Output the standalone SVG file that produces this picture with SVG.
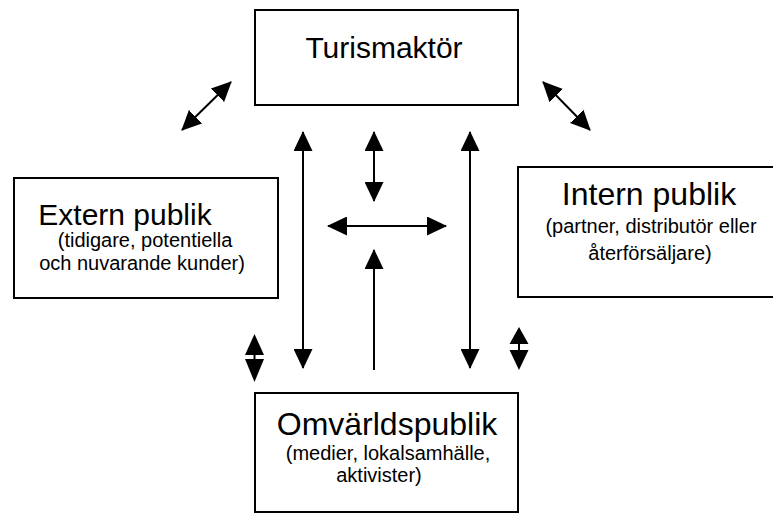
<svg xmlns="http://www.w3.org/2000/svg" width="773" height="514" viewBox="0 0 773 514">
<style>
.box{fill:#fff;stroke:#000;stroke-width:2}
.t{font-family:"Liberation Sans",Arial,sans-serif;fill:#000;text-anchor:middle}
.big{font-size:30px}
.big2{font-size:32px}
.sm{font-size:20px}
.ln{stroke:#000;stroke-width:2;fill:none}
.hd{fill:#000}
</style>
<defs>
<marker id="ah" viewBox="0 0 20 19" refX="19" refY="9.5" markerWidth="20" markerHeight="19" markerUnits="userSpaceOnUse" orient="auto-start-reverse">
<path d="M0,0 L20,9.5 L0,19 z" fill="#000"/>
</marker>
</defs>
<rect width="773" height="514" fill="#fff"/>
<g id="turismaktor">
<rect class="box" x="255" y="10" width="263" height="95"/>
<text class="t big" x="384" y="58">Turismaktör</text>
</g>
<g id="extern">
<rect class="box" x="14" y="178" width="264" height="120"/>
<text class="t big" x="125" y="225">Extern publik</text>
<text class="t sm" x="145" y="247">(tidigare, potentiella</text>
<text class="t sm" x="142" y="270">och nuvarande kunder)</text>
</g>
<g id="intern">
<rect class="box" x="518" y="167" width="260" height="130"/>
<text class="t big2" x="649" y="205">Intern publik</text>
<text class="t sm" x="651" y="233">(partner, distributör eller</text>
<text class="t sm" x="650" y="260">återförsäljare)</text>
</g>
<g id="omvarld">
<rect class="box" x="255" y="393" width="263" height="119"/>
<text class="t big2" x="387" y="435">Omvärldspublik</text>
<text class="t sm" x="388" y="460">(medier, lokalsamhälle,</text>
<text class="t sm" x="379" y="482">aktivister)</text>
</g>
<g id="connectors">
<line class="ln" x1="231" y1="82" x2="182" y2="130" marker-start="url(#ah)" marker-end="url(#ah)"/>
<line class="ln" x1="543" y1="82" x2="590" y2="130" marker-start="url(#ah)" marker-end="url(#ah)"/>
<line class="ln" x1="303" y1="132" x2="303" y2="368" marker-start="url(#ah)" marker-end="url(#ah)"/>
<line class="ln" x1="470" y1="132" x2="470" y2="368" marker-start="url(#ah)" marker-end="url(#ah)"/>
<line class="ln" x1="374" y1="132" x2="374" y2="201" marker-start="url(#ah)" marker-end="url(#ah)"/>
<line class="ln" x1="328" y1="226" x2="446" y2="226" marker-start="url(#ah)" marker-end="url(#ah)"/>
<line class="ln" x1="374" y1="370" x2="374" y2="250" marker-end="url(#ah)"/>
<path class="hd" d="M254.5,334 L264,355 L245,355 z M245,359 L264,359 L254.5,382 z"/>
<line class="ln" x1="254.5" y1="355" x2="254.5" y2="359"/>
<path class="hd" d="M519,327 L528.5,344 L509.5,344 z M509.5,350 L528.5,350 L519,370 z"/>
<line class="ln" x1="519" y1="344" x2="519" y2="350"/>
</g>
</svg>
